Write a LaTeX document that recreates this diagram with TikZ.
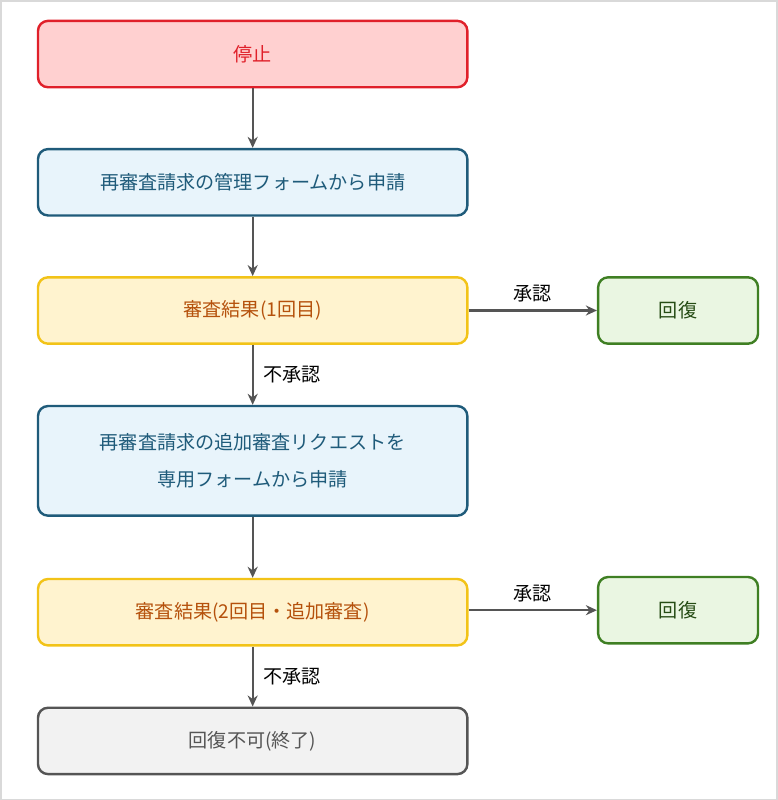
\documentclass[tikz,border=0pt]{standalone}
\usepackage{fontspec}
\setmainfont{Noto Sans CJK JP}
\usetikzlibrary{arrows.meta}
\definecolor{stopfill}{HTML}{FFD0D0}\definecolor{stopline}{HTML}{E0202A}
\definecolor{reqfill}{HTML}{E8F4FB}\definecolor{reqline}{HTML}{1F5B7A}
\definecolor{resfill}{HTML}{FFF3CF}\definecolor{resline}{HTML}{F2C318}\definecolor{restext}{HTML}{B5510C}
\definecolor{okfill}{HTML}{EAF6E2}\definecolor{okline}{HTML}{3F7F23}
\definecolor{endfill}{HTML}{F2F2F2}\definecolor{endline}{HTML}{555555}
\begin{document}
\begin{tikzpicture}[x=1pt,y=-1pt,font=\fontsize{19}{36}\selectfont]
\tikzstyle{box}=[rectangle, rounded corners=10pt, line width=2.4pt, minimum width=427pt, minimum height=66pt, align=center]
\tikzstyle{okbox}=[box, minimum width=159pt, draw=okline, fill=okfill, text=okline!60!black]
\tikzstyle{connect}=[-{Stealth[length=11pt,width=10pt]}, line width=2.2pt, draw=endline]
\draw[black!15, line width=1.5pt] (3,3) rectangle (775,797);
  \node[box, draw=stopline, fill=stopfill, text=stopline] (stop) at (253.5,56) {停止};
  \node[box, draw=reqline, fill=reqfill, text=reqline] (req1) at (253.5,183.5) {再審査請求の管理フォームから申請};
  \node[box, draw=resline, fill=resfill, text=restext] (res1) at (253.5,311) {審査結果(1回目)};
  \node[okbox] (ok1) at (676.5,311) {回復};
  \node[box, minimum height=109pt, draw=reqline, fill=reqfill, text=reqline] (req2) at (253.5,460.5) {再審査請求の追加審査リクエストを\\専用フォームから申請};
  \node[box, draw=resline, fill=resfill, text=restext] (res2) at (253.5,611) {審査結果(2回目・追加審査)};
  \node[okbox] (ok2) at (676.5,609) {回復};
  \node[box, draw=endline, fill=endfill, text=endline] (fin) at (253.5,739) {回復不可(終了)};
  \draw[connect] (stop) -- (req1);
  \draw[connect] (req1) -- (res1);
  \draw[connect] (res1) -- node[right=6pt] {不承認} (req2);
  \draw[connect] (req2) -- (res2);
  \draw[connect] (res2) -- node[right=6pt] {不承認} (fin);
  \draw[connect] (res1) -- node[above=4pt] {承認} (ok1);
  \draw[connect] (res2.east |- ok2) -- node[above=4pt] {承認} (ok2);
\end{tikzpicture}
\end{document}
